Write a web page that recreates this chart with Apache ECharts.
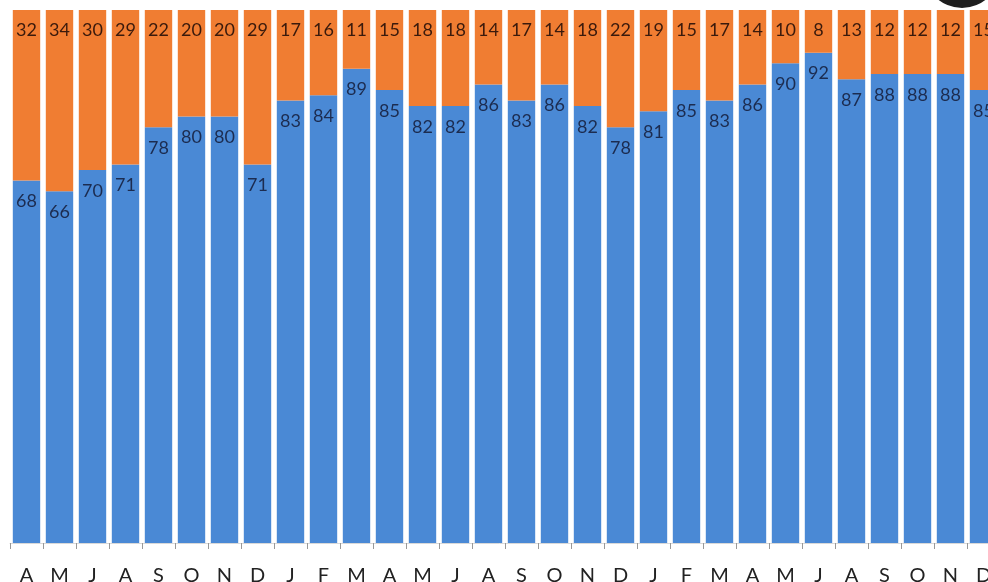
<!DOCTYPE html>
<html>
<head>
<meta charset="utf-8">
<script src="https://cdn.jsdelivr.net/npm/echarts@6/dist/echarts.min.js"></script>
<style>html,body{margin:0;padding:0;background:#fff;}#c{width:988px;height:582px;}</style>
</head>
<body>
<div id="c"></div>
<script>
const categories = ['A','M','J','A','S','O','N','D','J','F','M','A','M','J','A','S','O','N','D','J','F','M','A','M','J','A','S','O','N','D'];
const blueValues = [68,66,70,71,78,80,80,71,83,84,89,85,82,82,86,83,86,82,78,81,85,83,86,90,92,87,88,88,88,85];
const orangeValues = [32,34,30,29,22,20,20,29,17,16,11,15,18,18,14,17,14,18,22,19,15,17,14,10,8,13,12,12,12,15];

const chart = echarts.init(document.getElementById('c'), null, {renderer:'canvas'});
const font = 'Lato, "Open Sans", sans-serif';
chart.setOption({
  animation: false,
  backgroundColor: '#fff',
  grid: {left: 10, top: 10, bottom: 39, width: 990, containLabel: false, outerBoundsMode: 'none'},
  xAxis: {
    type: 'category',
    data: categories,
    axisLine: {show: true, lineStyle: {color: '#d9d9d9', width: 1}},
    axisTick: {show: true, length: 6, lineStyle: {color: '#999'}},
    axisLabel: {color: '#222', fontSize: 20, fontFamily: font, margin: 23, interval: 0}
  },
  yAxis: {type: 'value', min: 0, max: 100, show: false, splitLine: {show: false}},
  series: [
    {
      type: 'bar', stack: 's', data: blueValues, barCategoryGap: '17%',
      itemStyle: {color: '#4A89D5'},
      label: {show: true, position: 'insideTop', distance: 12, color: '#1c2c50', fontSize: 18, fontFamily: font}
    },
    {
      type: 'bar', stack: 's', data: orangeValues, barCategoryGap: '17%',
      itemStyle: {color: '#F07D32'},
      label: {show: true, position: 'insideTop', distance: 11, color: '#3a1a0c', fontSize: 18, fontFamily: font}
    }
  ],
  graphic: [
    {type: 'circle', shape: {cx: 962, cy: -30, r: 38}, style: {fill: '#1e1e1e'}, z: 100}
  ]
});
</script>
</body>
</html>
